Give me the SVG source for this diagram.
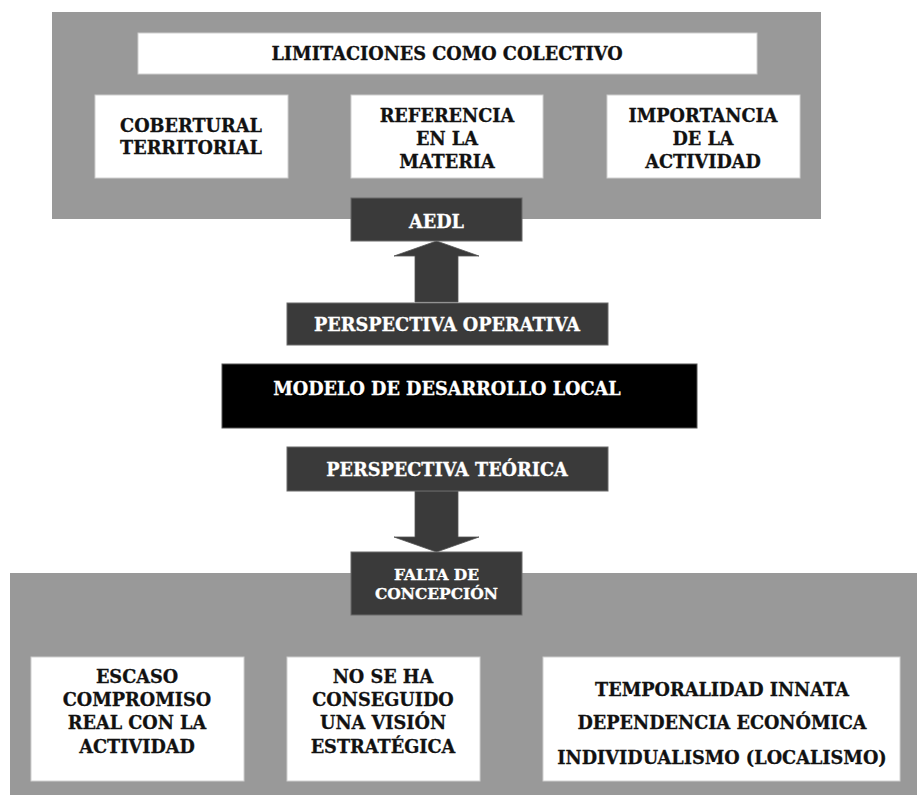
<svg xmlns="http://www.w3.org/2000/svg" width="917" height="796" viewBox="0 0 917 796">
<style>
.panel{fill:#999999;}
.wbox{fill:#ffffff;stroke:#d0d0d0;stroke-width:1;}
.dbox{fill:#3a3a3a;stroke:#6a6a6a;stroke-width:1;}
.bbox{fill:#000000;stroke:#555555;stroke-width:1;}
.arrow{fill:#3a3a3a;stroke:#555555;stroke-width:0.8;}
text{font-family:"DejaVu Serif","Liberation Serif",serif;font-weight:bold;text-anchor:middle;}
.k{fill:#111111;stroke:#111111;stroke-width:0.3;font-size:17.7px;}
.w{fill:#ffffff;stroke:#ffffff;stroke-width:0.3;font-size:17.7px;}
.ws{fill:#ffffff;stroke:#ffffff;stroke-width:0.3;font-size:15.5px;}
</style>
<rect width="917" height="796" fill="#ffffff"/>
<g id="panel-top">
<rect class="panel" x="52" y="12" width="769" height="207"/>
</g>
<g id="panel-bottom">
<rect class="panel" x="10" y="573" width="907" height="222"/>
</g>
<g id="connectors">
<polygon class="arrow" points="415,302 415,256 394,256 436.5,241 479,256 458,256 458,302"/>
<polygon class="arrow" points="415,491 415,537 394,537 436.5,552 479,537 458,537 458,491"/>
</g>
<g id="limitaciones">
<rect class="wbox" x="138" y="33" width="619" height="41"/>
<text class="k" x="447" y="59.5">LIMITACIONES COMO COLECTIVO</text>
</g>
<g id="cobertural">
<rect class="wbox" x="95" y="95" width="193" height="83"/>
<text class="k" x="191" y="131.5">COBERTURAL</text>
<text class="k" x="191" y="153.5">TERRITORIAL</text>
</g>
<g id="referencia">
<rect class="wbox" x="351" y="95" width="192" height="83"/>
<text class="k" x="447" y="121.5">REFERENCIA</text>
<text class="k" x="447" y="144.5">EN LA</text>
<text class="k" x="447" y="167.5">MATERIA</text>
</g>
<g id="importancia">
<rect class="wbox" x="607" y="95" width="193" height="83"/>
<text class="k" x="703" y="121.5">IMPORTANCIA</text>
<text class="k" x="703" y="144.5">DE LA</text>
<text class="k" x="703" y="167.5">ACTIVIDAD</text>
</g>
<g id="aedl">
<rect class="dbox" x="351" y="198" width="171" height="43"/>
<text class="w" x="436.5" y="227.5">AEDL</text>
</g>
<g id="perspectiva-operativa">
<rect class="dbox" x="287" y="303" width="321" height="42"/>
<text class="w" x="447" y="330.5">PERSPECTIVA OPERATIVA</text>
</g>
<g id="modelo">
<rect class="bbox" x="222" y="364" width="475" height="64"/>
<text class="w" x="447" y="394.5">MODELO DE DESARROLLO LOCAL</text>
</g>
<g id="perspectiva-teorica">
<rect class="dbox" x="287" y="447" width="321" height="44"/>
<text class="w" x="447" y="475.5">PERSPECTIVA TEÓRICA</text>
</g>
<g id="falta">
<rect class="dbox" x="351" y="552" width="171" height="63"/>
<text class="ws" x="436.5" y="579.5">FALTA DE</text>
<text class="ws" x="436.5" y="598.5">CONCEPCIÓN</text>
</g>
<g id="escaso">
<rect class="wbox" x="31" y="657" width="213" height="124"/>
<text class="k" x="137" y="682.5">ESCASO</text>
<text class="k" x="137" y="705.5">COMPROMISO</text>
<text class="k" x="137" y="728.5">REAL CON LA</text>
<text class="k" x="137" y="752.5">ACTIVIDAD</text>
</g>
<g id="vision">
<rect class="wbox" x="287" y="657" width="193" height="124"/>
<text class="k" x="383" y="682.5">NO SE HA</text>
<text class="k" x="383" y="705.5">CONSEGUIDO</text>
<text class="k" x="383" y="728.5">UNA VISIÓN</text>
<text class="k" x="383" y="752.5">ESTRATÉGICA</text>
</g>
<g id="temporalidad">
<rect class="wbox" x="543" y="657" width="357" height="124"/>
<text class="k" x="722" y="695.5">TEMPORALIDAD INNATA</text>
<text class="k" x="722" y="728.5">DEPENDENCIA ECONÓMICA</text>
<text class="k" x="722" y="763.5">INDIVIDUALISMO (LOCALISMO)</text>
</g>
</svg>
